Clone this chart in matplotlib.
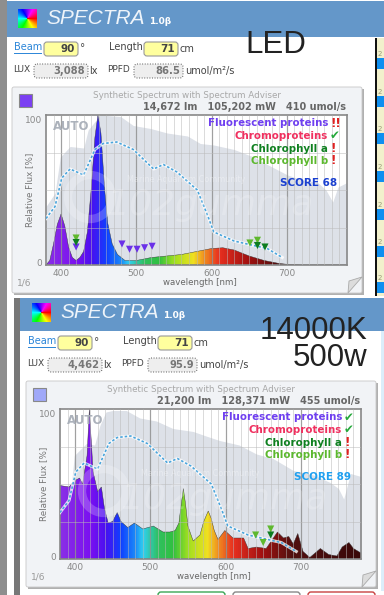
import numpy as np
import matplotlib
matplotlib.use('Agg')
import matplotlib.pyplot as plt
from matplotlib.colors import LinearSegmentedColormap, hsv_to_rgb
from matplotlib.patches import Circle, FancyBboxPatch, Polygon, Rectangle

W, H = 384, 595

# Panel 1 (LED)
led_wl = [380, 385, 390, 395, 400, 405, 410, 415, 420, 425, 430, 435, 440, 445, 449, 453, 458, 462, 468, 475, 485, 500, 520, 540, 560, 580, 600, 615, 630, 650, 670, 690, 700, 720, 780]
led_flux = [0, 3, 14, 27, 34, 26, 12, 5, 3, 5, 9, 22, 50, 85, 100, 88, 50, 28, 14, 7, 3, 3, 5, 6, 7, 9, 11, 11.5, 10, 6, 3, 1, 0.5, 0, 0]
led_ref_wl = [380, 392, 399, 412, 430, 436, 452, 479, 496, 519, 541, 568, 585, 603, 630, 656, 674, 701, 719, 741, 752, 761, 768, 780]
led_ref = [39, 48, 72, 79, 78, 90, 100, 99, 93, 91, 88, 86, 81, 80, 77, 72, 67, 60, 57, 55, 50, 42, 52, 55]

# Panel 2 (14000K)
mh_wl = [380, 392, 399, 406, 410, 416, 419, 424, 430, 435, 439, 444, 450, 456, 461, 470, 479, 490, 504, 517, 526, 533, 538, 541, 544, 547, 550, 557, 566, 571, 577, 581, 585, 590, 599, 610, 624, 630, 641, 654, 669, 677, 684, 690, 696, 703, 712, 726, 737, 748, 755, 764, 770, 780]
mh_flux = [49, 48, 52, 54, 50, 69, 100, 58, 45, 48, 34, 24, 25, 31, 25, 21, 24, 20, 22, 18, 18, 19, 24, 36, 47, 36, 22, 12, 16, 25, 32, 27, 19, 13, 19, 14, 14, 7, 8, 7, 18, 14, 15, 10, 17, 5, 1, 7, 3, 2, 8, 11, 7, 4]
mh_ref_wl = [380, 395, 399, 415, 426, 433, 441, 450, 468, 486, 508, 530, 557, 574, 592, 618, 641, 663, 690, 717, 739, 750, 757, 766, 780]
mh_ref = [49, 49, 69, 77, 76, 89, 98, 99, 99, 94, 92, 87, 85, 82, 79, 76, 70, 67, 59, 56, 51, 47, 40, 57, 55]

# Dashed target curve, same in both panels
target_wl = [380, 392, 401, 412, 430, 445, 456, 474, 496, 523, 536, 554, 581, 594, 603, 630, 656, 674, 694]
target = [31, 39, 58, 64, 60, 77, 81, 82, 77, 64, 67, 62, 50, 34, 22, 16, 13, 11, 5]

# Markers: wavelength, height, colour
led_marks_wl = [420, 420, 420, 481, 491, 501, 511, 521, 651, 661, 661, 671]
led_marks_y = [12, 18, 15, 14, 10.5, 10.5, 11.5, 12.5, 14.7, 16.5, 13, 12]
led_marks_c = ['#6a30e8', '#5fb82e', '#0c7d20', '#6a30e8', '#6a30e8', '#6a30e8', '#6a30e8', '#6a30e8', '#5fb82e', '#5fb82e', '#0c7d20', '#0c7d20']
mh_marks_wl = [640, 650, 660, 660]
mh_marks_y = [16, 11, 20, 16]
mh_marks_c = ['#5fb82e', '#5fb82e', '#5fb82e', '#0c7d20']

spectrum_cmap = LinearSegmentedColormap.from_list('spectrum', [
    (0.00, '#8a2fe6'), (0.10, '#7a10f0'), (0.15, '#4a10f0'), (0.20, '#1040ff'), (0.25, '#1c8cf8'),
    (0.275, '#30d0f0'), (0.325, '#30c060'), (0.375, '#30c040'), (0.425, '#a0e020'),
    (0.49, '#f0e020'), (0.525, '#f09020'), (0.575, '#e83020'), (0.675, '#a01010'),
    (0.775, '#501010'), (1.00, '#3a0808')])

fig = plt.figure(figsize=(W / 100, H / 100), dpi=100, facecolor='white')
plt.rcParams['font.family'] = 'DejaVu Sans'

bg = fig.add_axes([0, 0, 1, 1], zorder=0)
bg.set_xlim(0, W)
bg.set_ylim(H, 0)
bg.axis('off')

top = fig.add_axes([0, 0, 1, 1], zorder=5)
top.set_xlim(0, W)
top.set_ylim(H, 0)
top.axis('off')
top.patch.set_alpha(0)


def draw_page():
    bg.add_patch(Rectangle((0, 0), 7, H, fc='#8e8e8e', ec='none'))
    bg.add_patch(Rectangle((14, 298), 6, H - 298, fc='#777777', ec='none'))
    bg.add_patch(Rectangle((375, 38), 2, 258, fc='#111111', ec='none'))
    bg.add_patch(Rectangle((377, 38), 7, 258, fc='#f2f0cc', ec='none'))
    for y in [58, 96, 133, 171, 209, 246, 282]:
        bg.add_patch(Rectangle((377, y), 7, 11, fc='#0f8ff0', ec='none'))
        bg.text(378, y - 4, '2', fontsize=5, color='#999977', va='center', clip_on=True)
    bg.add_patch(Rectangle((381, 331), 3, 260, fc='#dbeefb', ec='none'))
    # buttons under panel 2
    for x0, col in [(157, '#3aa655'), (232, '#888888'), (307, '#c84040')]:
        bg.add_patch(FancyBboxPatch((x0 + 2, 593), 65, 6, boxstyle='round,pad=1,rounding_size=3', fc='white', ec=col, lw=1))


def draw_panel(dx, dy, beam, length, lux, ppfd, swatch, stats, wl, flux, ref_wl, ref, marks_wl, marks_y, marks_c, status, score, score_col, header_top):
    # header bar
    bg.add_patch(Rectangle((7 + (13 if dx else 0), header_top), W, 37 + dy - header_top, fc='#6497c9', ec='none'))
    xx, yy = np.meshgrid(np.linspace(-1, 1, 19), np.linspace(-1, 1, 19))
    hue = (np.arctan2(yy, xx) / (2 * np.pi)) % 1
    logo = hsv_to_rgb(np.dstack([hue, np.ones_like(hue), np.ones_like(hue)]))
    bg.imshow(logo, extent=(18 + dx, 37 + dx, 28 + dy, 9 + dy), aspect='auto', interpolation='bilinear', zorder=2)
    bg.set_xlim(0, W)
    bg.set_ylim(H, 0)
    bg.text(46 + dx, 19 + dy, 'SPECTRA', color='#eef4fa', fontsize=15, style='italic', va='center', family='Liberation Sans', zorder=3)
    bg.text(149 + dx, 22 + dy, '1.0β', color='white', fontsize=6.5, va='center', fontweight='bold', zorder=3)

    # inputs
    for x0, x1, val in [(44, 78, beam), (144, 178, length)]:
        bg.add_patch(FancyBboxPatch((x0 + dx + 1, 43 + dy), x1 - x0 - 2, 12, boxstyle='round,pad=1,rounding_size=3', fc='#ffff9e', ec='#999999', lw=0.8))
        bg.text(x1 + dx - 3, 49 + dy, val, ha='right', va='center', fontsize=7.5, fontweight='bold', color='#444444')
    for x0, x1, val in [(34, 88, lux), (134, 183, ppfd)]:
        bg.add_patch(FancyBboxPatch((x0 + dx + 1, 65 + dy), x1 - x0 - 2, 12, boxstyle='round,pad=1,rounding_size=3', fc='#eeeeee', ec='#555555', lw=0.7, ls=':'))
        bg.text(x1 + dx - 3, 71 + dy, val, ha='right', va='center', fontsize=7.2, fontweight='bold', color='#777777')
    bg.text(14 + dx, 47 + dy, 'Beam', color='#2a85d8', fontsize=7, va='center')
    bg.add_line(plt.Line2D([14 + dx, 41 + dx], [52.5 + dy, 52.5 + dy], color='#2a85d8', lw=0.7))
    bg.text(80 + dx, 48 + dy, '°', color='#444444', fontsize=7.5, va='center')
    bg.text(109 + dx, 47 + dy, 'Length', color='#444444', fontsize=7, va='center')
    bg.text(180 + dx, 49 + dy, 'cm', color='#444444', fontsize=7, va='center')
    bg.text(13 + dx, 70 + dy, 'LUX', color='#444444', fontsize=6.5, va='center')
    bg.text(89 + dx, 71 + dy, 'lx', color='#444444', fontsize=7, va='center')
    bg.text(107 + dx, 69 + dy, 'PPFD', color='#444444', fontsize=6.5, va='center')
    bg.text(185 + dx, 71 + dy, 'umol/m²/s', color='#444444', fontsize=7, va='center')

    # card
    bg.add_patch(Rectangle((14 + dx, 89 + dy), 350, 206, fc='#b0b0b0', ec='none', zorder=1))
    bg.add_patch(FancyBboxPatch((13 + dx, 88 + dy), 348, 204, boxstyle='round,pad=1,rounding_size=2', fc='#f1f3f6', ec='#c8c8c8', lw=0.6, zorder=1.2))
    bg.add_patch(Rectangle((19 + dx, 94 + dy), 13, 13, fc=swatch, ec='#888888', lw=0.8, zorder=2))
    bg.text(187 + dx, 95 + dy, 'Synthetic Spectrum with Spectrum Adviser', ha='center', va='center', fontsize=6.3, color='#a8a8a8', zorder=2)
    bg.text(346 + dx, 107 + dy, stats, ha='right', va='center', fontsize=7, fontweight='bold', color='#666666', zorder=2)
    bg.text(17 + dx, 283 + dy, '1/6', fontsize=6.5, color='#999999', va='center', zorder=2)
    bg.add_patch(Polygon([(349 + dx, 281 + dy), (362 + dx, 277 + dy), (348 + dx, 293 + dy)], fc='#dcdcdc', ec='#aaaaaa', lw=0.6, zorder=2))

    # chart
    ax = fig.add_axes([(46 + dx) / W, 1 - (265 + dy) / H, 301 / W, 150 / H], zorder=2)
    ax.fill_between(ref_wl, ref, color='#dde1e8', lw=0, zorder=1)
    img = ax.imshow(np.linspace(0, 1, 400).reshape(1, -1), extent=(380, 780, 0, 100), aspect='auto', cmap=spectrum_cmap, zorder=2)
    outline = Polygon(np.column_stack([wl + [780, 380], flux + [0, 0]]), closed=True, fc='none', ec='#333333', lw=0.3, zorder=2.1, transform=ax.transData)
    ax.add_patch(outline)
    img.set_clip_path(outline)
    ax.vlines(np.arange(390, 780, 10), 0, 100, color='#b8b8b8', lw=0.6, alpha=0.6, zorder=3)
    ax.vlines([400, 500, 600, 700], 0, 100, color='#888888', lw=0.9, alpha=0.7, zorder=3)
    ax.hlines([25, 50, 75], 380, 780, color='#bbbbbb', lw=0.6, alpha=0.6, zorder=3)
    ax.plot(target_wl, target, color='white', lw=2.2, alpha=0.8, zorder=4)
    ax.plot(target_wl, target, color='#4aa5dc', lw=1.2, ls=(0, (1.5, 1.2)), zorder=4.1)
    ax.scatter(marks_wl, marks_y, marker='v', s=26, c=marks_c, lw=0, zorder=5)
    ax.set_xlim(380, 780)
    ax.set_ylim(0, 100)
    ax.set_xticks([400, 500, 600, 700])
    ax.set_yticks([2, 97])
    ax.set_yticklabels(['0', '100'])
    ax.tick_params(length=0, labelsize=6.5, colors='#888888', pad=3)
    ax.set_xlabel('wavelength [nm]', fontsize=6.2, color='#666666', labelpad=0)
    ax.set_ylabel('Relative Flux [%]', fontsize=6.3, color='#777777')
    ax.xaxis.set_label_coords(0.51, -0.085)
    ax.yaxis.set_label_coords(-0.04, 0.5)
    for s in ax.spines.values():
        s.set_color('#888888')
        s.set_linewidth(1.2)

    # overlay text
    top.text(53 + dx, 127 + dy, 'AUTO', fontsize=8.5, fontweight='bold', color='#a8aeb8', va='center', alpha=0.95)
    top.add_patch(Circle((90 + dx, 197 + dy), 22, fc='none', ec='white', lw=6, alpha=0.22))
    top.text(106 + dx, 205 + dy, '102gumma', fontsize=26, style='italic', color='white', alpha=0.2, va='center')
    top.text(127 + dx, 180 + dy, 'Marine Aquarium Community', fontsize=5.8, color='white', alpha=0.35, va='center')
    labels = ['Fluorescent proteins', 'Chromoproteins', 'Chlorophyll a', 'Chlorophyll b']
    label_cols = ['#6f3ff0', '#f0305f', '#0f8020', '#5cb82e']
    for k, (lab, col, st) in enumerate(zip(labels, label_cols, status)):
        y = 123.5 + dy + k * 12.5
        top.text(328 + dx, y, lab, ha='right', va='center', fontsize=7.4, fontweight='bold', color=col)
        if st == 'ok':
            top.text(330 + dx, y, '✔', va='center', fontsize=8.5, color='#25a83a')
        else:
            top.text(330 + dx, y, st, va='center', fontsize=8.5, fontweight='bold', color='#e02020')
    top.text(337 + dx, 183 + dy, score, ha='right', va='center', fontsize=7.5, fontweight='bold', color=score_col)


draw_page()
draw_panel(0, 0, '90', '71', '3,088', '86.5', '#7b3ff2', '14,672 lm   105,202 mW   410 umol/s',
           led_wl, led_flux, led_ref_wl, led_ref, led_marks_wl, led_marks_y, led_marks_c,
           ['!!', 'ok', '!', '!'], 'SCORE 68', '#1a40d0', 1)
draw_panel(14, 294, '90', '71', '4,462', '95.9', '#a0a8f8', '21,200 lm   128,371 mW   455 umol/s',
           mh_wl, mh_flux, mh_ref_wl, mh_ref, mh_marks_wl, mh_marks_y, mh_marks_c,
           ['ok', 'ok', '!', '!'], 'SCORE 89', '#20a0f0', 298)

top.text(276, 45, 'LED', fontsize=22.5, family='Liberation Sans', color='#222222', ha='center', va='center')
top.text(367, 331, '14000K', fontsize=22.5, family='Liberation Sans', color='#222222', ha='right', va='center')
top.text(367, 358, '500w', fontsize=22.5, family='Liberation Sans', color='#222222', ha='right', va='center')

fig.savefig('out.png', dpi=100)
